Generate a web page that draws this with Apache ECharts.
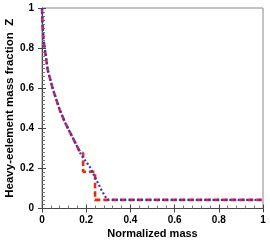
<!DOCTYPE html>
<html>
<head>
<meta charset="utf-8">
<script src="https://cdn.jsdelivr.net/npm/echarts@6/dist/echarts.min.js"></script>
<style>html,body{margin:0;padding:0;background:#fff}#c{width:270px;height:247px}</style>
</head>
<body>
<div id="c"></div>
<script>
var xTicks = [0, 0.2, 0.4, 0.6, 0.8, 1];
var yTicks = [0, 0.2, 0.4, 0.6, 0.8, 1];
var redX = [0, 0.002, 0.006, 0.012, 0.026, 0.048, 0.079, 0.103, 0.133, 0.156, 0.172, 0.186, 0.186, 0.240, 0.240, 1];
var redY = [1, 0.93, 0.85, 0.80, 0.69, 0.60, 0.495, 0.432, 0.366, 0.316, 0.282, 0.276, 0.183, 0.183, 0.043, 0.043];
var blueX = [0, 0.002, 0.006, 0.012, 0.026, 0.048, 0.079, 0.103, 0.133, 0.156, 0.178, 0.216, 0.246, 0.269, 0.291, 0.302, 1];
var blueY = [1, 0.93, 0.85, 0.80, 0.69, 0.60, 0.495, 0.432, 0.366, 0.316, 0.266, 0.208, 0.142, 0.092, 0.051, 0.043, 0.043];

function pairs(xs, ys) { return xs.map(function (x, i) { return [x, ys[i]]; }); }
function fmt(v) { return String(Math.round(v * 10) / 10); }

var FONT = '"Liberation Sans", Arial, sans-serif';
var chart = echarts.init(document.getElementById('c'), null, { renderer: 'canvas' });
var baseAxis = { type: 'value', min: 0, max: 1, interval: 0.2, splitLine: { show: false } };
chart.setOption({
  animation: false,
  grid: { left: 42, right: 7, top: 8, bottom: 38.5, containLabel: false, outerBoundsMode: 'none',
    show: true, borderColor: '#888', borderWidth: 1, backgroundColor: 'transparent' },
  xAxis: [
    Object.assign({}, baseAxis, {
      position: 'bottom',
      name: 'Normalized mass', nameLocation: 'middle', nameGap: 20, nameMoveOverlap: false,
      nameTextStyle: { color: '#000', fontWeight: 'bold', fontSize: 11, fontFamily: FONT },
      axisLine: { show: true, lineStyle: { color: '#444', width: 1 } },
      axisTick: { show: true, inside: false, length: 4, lineStyle: { color: '#444' } },
      axisLabel: { color: '#000', fontWeight: 'bold', fontSize: 10, fontFamily: FONT, margin: 7,
        customValues: xTicks, formatter: fmt }
    }),
    Object.assign({}, baseAxis, {
      position: 'bottom',
      axisLine: { show: false },
      axisTick: { show: true, inside: true, length: 4, lineStyle: { color: '#444' } },
      minorTick: { show: true, splitNumber: 5, length: 3, lineStyle: { color: '#777' } },
      axisLabel: { show: false }
    })
  ],
  yAxis: [
    Object.assign({}, baseAxis, {
      position: 'left',
      name: 'Heavy-eelement mass fraction  Z', nameLocation: 'middle', nameGap: 26, nameMoveOverlap: false,
      nameTextStyle: { color: '#000', fontWeight: 'bold', fontSize: 11.5, fontFamily: FONT },
      axisLine: { show: true, lineStyle: { color: '#444', width: 1 } },
      axisTick: { show: true, inside: false, length: 4, lineStyle: { color: '#444' } },
      axisLabel: { color: '#000', fontWeight: 'bold', fontSize: 10, fontFamily: FONT, margin: 8,
        customValues: yTicks, formatter: fmt }
    }),
    Object.assign({}, baseAxis, {
      position: 'left',
      axisLine: { show: false },
      axisTick: { show: true, inside: true, length: 4, lineStyle: { color: '#444' } },
      minorTick: { show: true, splitNumber: 10, length: 3, lineStyle: { color: '#777' } },
      axisLabel: { show: false }
    })
  ],
  series: [
    { type: 'line', name: 'red', xAxisIndex: 0, yAxisIndex: 0, data: pairs(redX, redY), showSymbol: false, symbol: 'none',
      lineStyle: { color: '#ff2200', width: 2.6, type: [5.5, 3] }, z: 2 },
    { type: 'line', name: 'blue', xAxisIndex: 0, yAxisIndex: 0, data: pairs(blueX, blueY), showSymbol: false, symbol: 'none',
      lineStyle: { color: '#2233ff', width: 2.2, type: [2, 2.2] }, z: 3 }
  ]
});
</script>
</body>
</html>
